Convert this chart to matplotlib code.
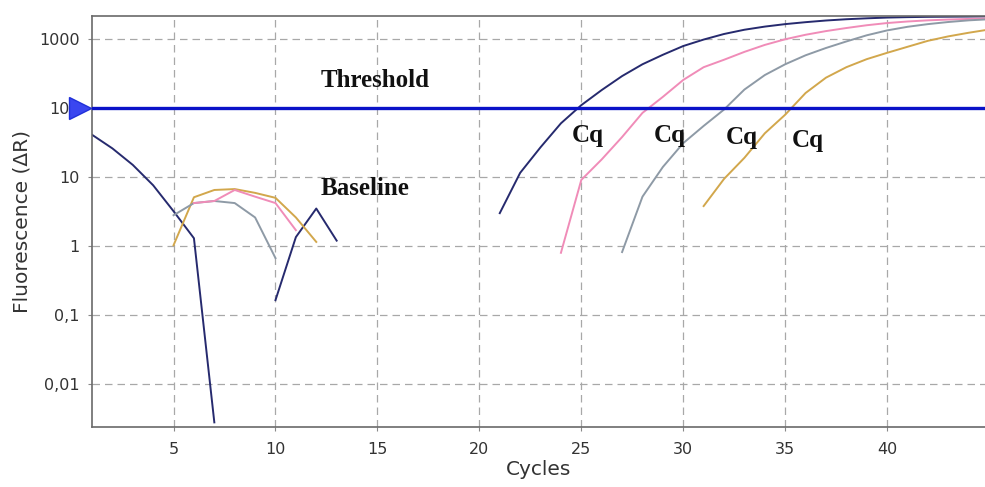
import matplotlib.pyplot as plt
import matplotlib.transforms as mtransforms
import numpy as np
from matplotlib.ticker import FixedLocator, NullLocator

# baseline-region segments (cycles, fluorescence)
navy_base_x = [1, 2, 3, 4, 5, 6, 7, 8, 9, 10, 11, 12, 13]
navy_base_y = [41, 26, 15, 7.6, 3.2, 1.3, 0.0028, np.nan, np.nan, 0.165, 1.35, 3.5, 1.2]

gold_base_x = [5, 6, 7, 8, 9, 10, 11, 12]
gold_base_y = [1.03, 5.1, 6.5, 6.7, 5.9, 5.0, 2.6, 1.15]

pink_base_x = [6, 7, 8, 9, 10, 11]
pink_base_y = [4.2, 4.5, 6.5, 5.2, 4.2, 1.7]

gray_base_x = [5, 6, 7, 8, 9, 10]
gray_base_y = [2.8, 4.2, 4.5, 4.2, 2.6, 0.67]

# amplification curves
navy_amp_x = list(range(21, 46))
navy_amp_y = [3.0, 11.5, 27, 60, 110, 182, 290, 430, 590, 790, 980, 1180, 1360,
              1510, 1640, 1750, 1850, 1930, 1990, 2040, 2070, 2090, 2100, 2110, 2120]

pink_amp_x = list(range(24, 46))
pink_amp_y = [0.8, 9.1, 18, 38, 85, 145, 255, 390, 500, 650, 820, 990, 1150,
              1300, 1440, 1580, 1700, 1790, 1860, 1910, 1950, 1980]

gray_amp_x = list(range(27, 46))
gray_amp_y = [0.82, 5.2, 14, 31, 55, 95, 185, 300, 430, 580, 740, 920, 1130,
              1330, 1500, 1640, 1760, 1860, 1930]

gold_amp_x = list(range(31, 46))
gold_amp_y = [3.8, 9.4, 19, 43, 80, 165, 275, 390, 510, 630, 770, 940, 1090, 1230, 1370]

threshold = 100
cq_x = [24.53, 28.56, 32.1, 35.33]
cq_y = [32, 32, 30, 27]

y_ticks = [0.01, 0.1, 1, 10, 100, 1000]
y_tick_labels = ["0,01", "0,1", "1", "10", "100", "1000"]
x_ticks = [5, 10, 15, 20, 25, 30, 35, 40]

NAVY = "#262a6e"
PINK = "#f08cb8"
GRAY = "#8e9aa6"
GOLD = "#d2a74c"
BLUE = "#0a12c8"

fig = plt.figure(figsize=(9.85, 4.87), dpi=100)
ax = fig.add_axes([92 / 985, 1 - 427 / 487, 1 - 92 / 985, (427 - 16) / 487])

ax.set_yscale("log")
ax.set_xlim(1, 44.8)
ax.set_ylim(0.0024, 2150)

lw = 1.4
ax.plot(navy_base_x, navy_base_y, color=NAVY, lw=lw)
ax.plot(gold_base_x, gold_base_y, color=GOLD, lw=lw)
ax.plot(gray_base_x, gray_base_y, color=GRAY, lw=lw)
ax.plot(pink_base_x, pink_base_y, color=PINK, lw=lw)
ax.plot(navy_amp_x, navy_amp_y, color=NAVY, lw=lw)
ax.plot(pink_amp_x, pink_amp_y, color=PINK, lw=lw)
ax.plot(gray_amp_x, gray_amp_y, color=GRAY, lw=lw)
ax.plot(gold_amp_x, gold_amp_y, color=GOLD, lw=lw)

ax.axhline(threshold, color=BLUE, lw=2.4, zorder=4)
marker_tr = mtransforms.offset_copy(ax.transData, fig=fig, x=-12, y=0, units="dots")
ax.plot([1], [threshold], marker=">", markersize=16, color="#3a46f0",
        markeredgecolor="#2030d8", transform=marker_tr, clip_on=False, zorder=6)

serif = dict(family="Liberation Serif", fontweight="bold", fontsize=18, color="#111111")
ax.text(12.19, 201, "Threshold", ha="left", va="baseline", **serif)
ax.text(12.19, 5.5, "Baseline", ha="left", va="baseline", **serif)
for cx, cy in zip(cq_x, cq_y):
    ax.text(cx, cy, "Cq", ha="left", va="baseline", **serif)

ax.yaxis.set_major_locator(FixedLocator(y_ticks))
ax.yaxis.set_minor_locator(NullLocator())
ax.set_yticklabels(y_tick_labels)
ax.set_xticks(x_ticks)

ax.grid(True, which="major", color="#a8a8a8", linestyle=(0, (6, 4)), lw=0.9)
ax.tick_params(axis="both", length=3, color="#888888", labelsize=11.5,
               labelcolor="#333333")
ax.tick_params(axis="x", pad=8)
ax.tick_params(axis="y", pad=6)

for side in ["left", "bottom", "top"]:
    ax.spines[side].set_color("#6a6a6a")
    ax.spines[side].set_linewidth(1.2)
ax.spines["right"].set_visible(False)

ax.set_xlabel("Cycles", fontsize=14.5, color="#333333", labelpad=2)
ax.set_ylabel("Fluorescence (\u0394R)", fontsize=14.5, color="#333333", labelpad=5)

fig.savefig("out.png", dpi=100)
